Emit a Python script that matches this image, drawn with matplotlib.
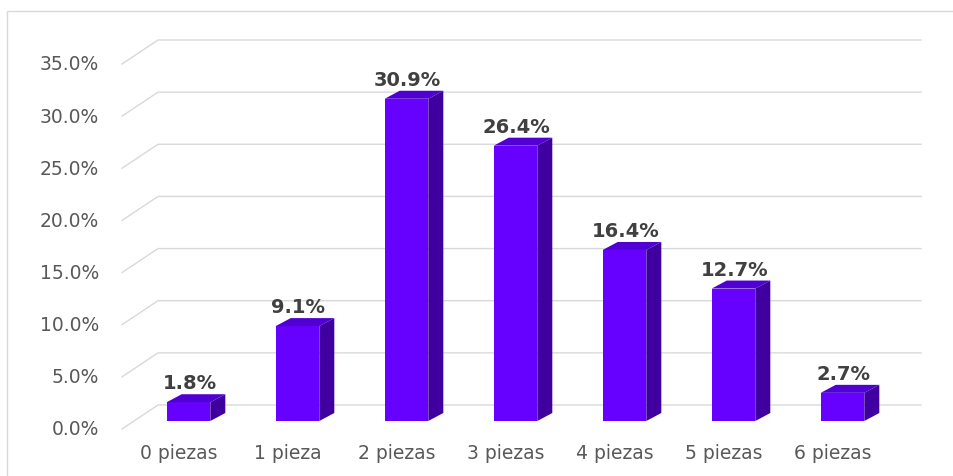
import numpy as np
import matplotlib.pyplot as plt
from matplotlib.patches import Polygon, Rectangle

categories = ['0 piezas', '1 pieza', '2 piezas', '3 piezas', '4 piezas', '5 piezas', '6 piezas']
values = [1.8, 9.1, 30.9, 26.4, 16.4, 12.7, 2.7]
yticks = [0, 5, 10, 15, 20, 25, 30, 35]

front_col = '#6600ff'
top_col = '#5000d2'
side_col = '#4000a0'
grid_col = '#d9d9d9'

W, H = 954, 477
fig = plt.figure(figsize=(W / 100, H / 100), dpi=100)
ax = fig.add_axes([134 / W, 55 / H, 763 / W, 365 / H])
ax.set_xlim(-0.5, 6.5)
ax.set_ylim(0, 35)
ax.axis('off')

# pixel -> data conversion, used for the fake 3d depth
sx = 7 / 763
sy = 35 / 365


def shift(x, y, dx, dy):
    return x + dx * sx, y + dy * sy


front = (-12, -8)   # front edge of the floor
back = (24, 16)     # back wall
depth = (15, 8)     # bar depth

# back wall gridlines with the diagonal floor/side edge
for t in yticks:
    fx, fy = shift(-0.5, t, *front)
    bx, by = shift(-0.5, t, *back)
    rx, ry = shift(6.5, t, *back)
    ax.plot([fx, bx, rx], [fy, by, ry], color=grid_col, lw=1, zorder=1, clip_on=False)
    ax.annotate(f'{t:.1f}%', (fx, fy), xytext=(-23, 0), textcoords='offset pixels',
                ha='right', va='center', fontsize=13.5, color='#595959', annotation_clip=False)

w = 0.4
x = np.arange(len(values))
ax.bar(x, values, width=w, color=front_col, zorder=3)
for i, v in zip(x, values):
    l, r = i - w / 2, i + w / 2
    top = [(l, v), (r, v), shift(r, v, *depth), shift(l, v, *depth)]
    side = [(r, 0), (r, v), shift(r, v, *depth), shift(r, 0, *depth)]
    ax.add_patch(Polygon(top, closed=True, facecolor=top_col, edgecolor='none', zorder=3, clip_on=False))
    ax.add_patch(Polygon(side, closed=True, facecolor=side_col, edgecolor='none', zorder=3, clip_on=False))
    ax.annotate(f'{v:.1f}%', (i, v), xytext=(1, 14), textcoords='offset pixels',
                ha='center', va='baseline', fontsize=14, fontweight='bold', color='#404040',
                annotation_clip=False)

for i, c in zip(x, categories):
    px, py = shift(i, 0, *front)
    ax.annotate(c, (px, py), xytext=(2, -24), textcoords='offset pixels',
                ha='center', va='center', fontsize=13.5, color='#595959', annotation_clip=False)

# chart area border
fig.patches.append(Rectangle((7 / W, -0.1), 1.0, 465 / H + 0.1, fill=False,
                             edgecolor=grid_col, lw=1, transform=fig.transFigure))

fig.savefig('out.png', dpi=100, facecolor='white')
